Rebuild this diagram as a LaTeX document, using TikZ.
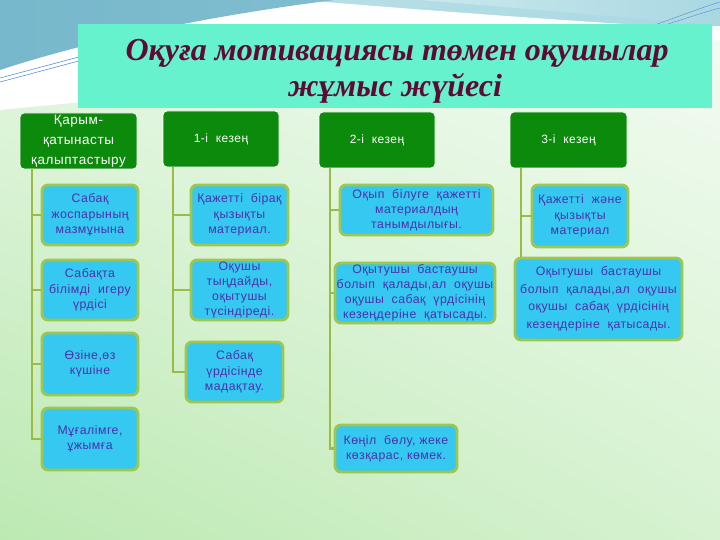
\documentclass[tikz,border=0pt]{standalone}
\usepackage{fontspec}
\setmainfont{Liberation Sans}
\newfontfamily\titlefont{Liberation Serif}
\newfontfamily\bodyfont[LetterSpace=4]{Liberation Sans}
\usetikzlibrary{shadings}
\definecolor{hdrgreen}{HTML}{0B8A0B}
\definecolor{itemcyan}{HTML}{35C8F0}
\definecolor{itemborder}{HTML}{9FC64E}
\definecolor{itemtext}{HTML}{4C30AC}
\definecolor{linkgreen}{HTML}{9BBB44}
\definecolor{titlebg}{HTML}{66F2CC}
\definecolor{titletext}{HTML}{5E0A35}
\definecolor{skyA}{HTML}{78B8CC}
\definecolor{skyB}{HTML}{A9D8E2}
\definecolor{bgLL}{HTML}{BCE9B2}
\definecolor{bgUR}{HTML}{F4FCF4}
\definecolor{bgUL}{HTML}{E6F7E4}
\definecolor{bgLR}{HTML}{D6F2D0}
\begin{document}
\begin{tikzpicture}[x=1pt,y=-1pt,
  hdr/.style={draw=white, line width=0.8pt, fill=hdrgreen, rounded corners=4pt,
    text=white, font=\bodyfont\fontsize{12}{14}\selectfont, align=center,
    minimum width=116pt, minimum height=56pt, inner sep=1pt},
  item/.style={draw=itemborder, line width=2.8pt, fill=itemcyan, rounded corners=6pt,
    text=itemtext, font=\bodyfont\fontsize{12.3}{15.5}\selectfont, align=center, inner sep=1pt},
  link/.style={draw=linkgreen, line width=2.8pt},
  titlefnt/.style={text=titletext, align=center, anchor=base,
    font=\titlefont\bfseries\itshape\fontsize{32}{36}\selectfont},
  titlebox/.style={fill=titlebg, draw=none, minimum width=634pt, minimum height=84pt}]
\useasboundingbox (0,0) rectangle (720,540);
% background
\shade[lower left=bgLL, upper right=bgUR, upper left=bgUL, lower right=bgLR]
  (0,0) rectangle (720,540);
\shade[left color=skyB!70!white, right color=skyB] (0,0) rectangle (720,26);
\fill[white] (300,0) .. controls (400,8) and (520,18) .. (720,30) -- (720,40) -- (0,110) -- (0,0) -- cycle;
\shade[left color=skyA, right color=skyA!85!skyB] (0,0) -- (335,0) .. controls (220,14) and (90,40) .. (0,70) -- cycle;
\shade[left color=skyB!60!white, right color=skyB] (420,0) -- (720,0) -- (720,24) .. controls (620,18) and (520,8) .. (420,0) -- cycle;
\draw[skyA!80!blue, line width=0.6pt] (0,82) .. controls (30,74) and (60,66) .. (90,58);
\draw[skyA!80!blue, line width=0.6pt] (0,78) .. controls (30,70) and (60,62) .. (90,54);
\draw[skyA!80!blue, line width=0.5pt] (640,30) .. controls (670,20) and (700,8) .. (720,2);
\draw[skyA!80!blue, line width=0.5pt] (650,30) .. controls (680,20) and (705,12) .. (720,8);
% title
\node[titlebox] (title) at (395,66) {};
\node[titlefnt] (t1) at (397,61) {Оқуға мотивациясы төмен оқушылар};
\node[titlefnt] (t2) at (395,97) {жұмыс жүйесі};
% headers
\node[hdr, minimum width=117pt, font=\bodyfont\fontsize{13.5}{20}\selectfont] (hA) at (78.5,141) {Қарым-\\қатынасты\\қалыптастыру};
\node[hdr] (hB) at (221,139) {1-і\ \ кезең};
\node[hdr] (hC) at (377,140) {2-і\ \ кезең};
\node[hdr, minimum width=117pt] (hD) at (568.5,140) {3-і\ \ кезең};
% column A
\node[item, minimum width=96pt, minimum height=60pt] (a1) at (90,215) {Сабақ\\жоспарының\\мазмұнына};
\node[item, minimum width=96pt, minimum height=60pt] (a2) at (90,290) {Сабақта\\білімді\ \ игеру\\үрдісі};
\node[item, minimum width=96pt, minimum height=62pt] (a3) at (90,364) {Өзіне,өз\\күшіне};
\node[item, minimum width=96pt, minimum height=62pt] (a4) at (90,439) {Мұғалімге,\\ұжымға};
\coordinate (aTop) at (32,168);
\draw[link] (aTop) |- (a4.west);
\foreach \n in {a1,a2,a3} \draw[link] (aTop |- \n.west) -- (\n.west);
% column B
\node[item, minimum width=97pt, minimum height=60pt] (b1) at (239.5,215) {Қажетті\ \ бірақ\\қызықты\\материал.};
\node[item, minimum width=97pt, minimum height=60pt, font=\bodyfont\fontsize{12.3}{15.3}\selectfont] (b2) at (239.5,290) {Оқушы\\тыңдайды,\\оқытушы\\түсіндіреді.};
\node[item, minimum width=97pt, minimum height=60pt] (b3) at (234.5,372) {Сабақ\\үрдісінде\\мадақтау.};
\coordinate (bTop) at (173,167);
\draw[link] (bTop) |- (b3.west);
\foreach \n in {b1,b2} \draw[link] (bTop |- \n.west) -- (\n.west);
% column C
\node[item, minimum width=153pt, minimum height=50pt, font=\bodyfont\fontsize{12.3}{15}\selectfont] (c1) at (416.5,210) {Оқып\ \ білуге\ \ қажетті\\материалдың\\танымдылығы.};
\node[item, minimum width=160pt, minimum height=60pt, font=\bodyfont\fontsize{12.3}{15}\selectfont] (c2) at (415,293) {Оқытушы\ \ бастаушы\\болып\ \ қалады,ал\ \ оқушы\\оқушы\ \ сабақ\ \ үрдісінің\\кезеңдеріне\ \ қатысады.};
\node[item, minimum width=122pt, minimum height=47pt, font=\bodyfont\fontsize{12.3}{15}\selectfont] (c3) at (396,448.5) {Көңіл\ \ бөлу, жеке\\көзқарас, көмек.};
\coordinate (cTop) at (330,168);
\draw[link] (cTop) |- (c3.west);
\foreach \n in {c1,c2} \draw[link] (cTop |- \n.west) -- (\n.west);
% column D
\node[item, minimum width=96pt, minimum height=62pt] (d1) at (580,216) {Қажетті\ \ және\\қызықты\\материал};
\node[item, minimum width=167pt, minimum height=82pt, font=\bodyfont\fontsize{12.3}{17.5}\selectfont] (d2) at (598.5,299) {Оқытушы\ \ бастаушы\\болып\ \ қалады,ал\ \ оқушы\\оқушы\ \ сабақ\ \ үрдісінің\\кезеңдеріне\ \ қатысады.};
\coordinate (dTop) at (521,168);
\draw[link] (dTop) -- (dTop |- d2.north);
\draw[link] (dTop |- d1.west) -- (d1.west);
\end{tikzpicture}
\end{document}
